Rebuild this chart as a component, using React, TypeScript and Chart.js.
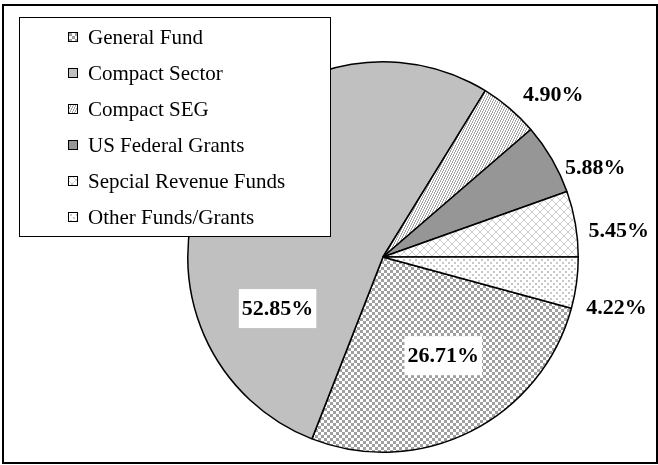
import React, { useEffect, useRef } from "react";
import { Chart, registerables } from "chart.js";

Chart.register(...registerables);

const categories = [
  "General Fund",
  "Compact Sector",
  "Compact SEG",
  "US Federal Grants",
  "Sepcial Revenue Funds",
  "Other Funds/Grants",
];
const shares = [26.71, 52.85, 4.9, 5.88, 5.45, 4.22];

// label placement: fraction across the slice, and either a radius fraction (inside) or pixels outside the rim
const labelPlacement = [
  { inside: true, frac: 0.45, r: 0.59 },
  { inside: true, frac: 0.225, r: 0.6 },
  { inside: false, frac: 0.51, d: 20 },
  { inside: false, frac: 0.68, d: 8 },
  { inside: false, frac: 0.61, d: 12 },
  { inside: false, frac: 0.9, d: 14 },
];

function makePattern(size: number, fn: (c: CanvasRenderingContext2D) => void): CanvasPattern | string {
  const cv = document.createElement("canvas");
  cv.width = size;
  cv.height = size;
  const c = cv.getContext("2d")!;
  c.fillStyle = "#ffffff";
  c.fillRect(0, 0, size, size);
  fn(c);
  const ctx = document.createElement("canvas").getContext("2d")!;
  return ctx.createPattern(cv, "repeat") || "#cccccc";
}

function buildFills() {
  const checker = makePattern(6, (c) => {
    c.fillStyle = "#a0a0a0";
    c.fillRect(0, 0, 3, 3);
    c.fillRect(3, 3, 3, 3);
  });
  const stripes = makePattern(5, (c) => {
    c.fillStyle = "#a6a6a6";
    for (let x = 0; x < 5; x++)
      for (let y = 0; y < 5; y++) if ((2 * x + y) % 5 < 2) c.fillRect(x, y, 1, 1);
  });
  const cross = makePattern(8, (c) => {
    c.fillStyle = "#cccccc";
    for (let i = 0; i < 8; i++) {
      c.fillRect(i, i, 1, 1);
      c.fillRect(7 - i, i, 1, 1);
    }
  });
  const dots = makePattern(6, (c) => {
    c.fillStyle = "#c8c8c8";
    c.fillRect(1, 1, 2, 2);
    c.fillRect(4, 4, 2, 2);
  });
  return [checker, "#c0c0c0", stripes, "#969696", cross, dots];
}

const overlayPlugin = {
  id: "overlay",
  afterDraw(chart: any) {
    const ctx: CanvasRenderingContext2D = chart.ctx;
    const meta = chart.getDatasetMeta(0);
    const fills = chart.data.datasets[0].backgroundColor;
    ctx.save();
    // data labels
    const fs = 22;
    ctx.font = `bold ${fs}px "Liberation Serif", "Times New Roman", serif`;
    meta.data.forEach((arc: any, i: number) => {
      const p = arc.getProps(["x", "y", "startAngle", "endAngle", "outerRadius"], true);
      const pl = labelPlacement[i];
      const a = p.startAngle + (p.endAngle - p.startAngle) * pl.frac;
      const text = shares[i].toFixed(2) + "%";
      const w = ctx.measureText(text).width;
      if (pl.inside) {
        const rr = p.outerRadius * (pl.r as number);
        const cx = p.x + Math.cos(a) * rr;
        const cy = p.y + Math.sin(a) * rr;
        ctx.fillStyle = "#ffffff";
        ctx.fillRect(cx - w / 2 - 3, cy - 19, w + 6, 39);
        ctx.fillStyle = "#000000";
        ctx.textAlign = "center";
        ctx.textBaseline = "alphabetic";
        ctx.fillText(text, cx, cy + fs * 0.33);
      } else {
        const rr = p.outerRadius + (pl.d as number);
        const cx = p.x + Math.cos(a) * rr;
        const cy = p.y + Math.sin(a) * rr;
        ctx.fillStyle = "#000000";
        ctx.textAlign = "left";
        ctx.textBaseline = "alphabetic";
        ctx.fillText(text, cx, cy + fs * 0.33);
      }
    });

    // legend box
    const lx = 19.5, ly = 17.5, lw = 311, lh = 219;
    ctx.fillStyle = "#ffffff";
    ctx.fillRect(lx, ly, lw, lh);
    ctx.strokeStyle = "#000000";
    ctx.lineWidth = 1;
    ctx.strokeRect(lx, ly, lw, lh);
    const lfs = 21;
    ctx.font = `${lfs}px "Liberation Serif", "Times New Roman", serif`;
    ctx.textAlign = "left";
    ctx.textBaseline = "alphabetic";
    chart.data.labels.forEach((lab: string, i: number) => {
      const cy = 37 + i * 36;
      ctx.fillStyle = fills[i];
      ctx.fillRect(68, cy - 4.5, 9, 9);
      ctx.strokeStyle = "#000000";
      ctx.lineWidth = 1;
      ctx.strokeRect(68.5, cy - 4.5, 9, 9);
      ctx.fillStyle = "#000000";
      ctx.fillText(lab, 88, cy + lfs * 0.33);
    });

    // outer frame
    ctx.strokeStyle = "#000000";
    ctx.lineWidth = 2;
    ctx.strokeRect(3, 5, 654, 458);
    ctx.restore();
  },
};

export default function App() {
  const ref = useRef<HTMLCanvasElement | null>(null);
  useEffect(() => {
    document.body.style.margin = "0";
    const fills = buildFills();
    const chart = new Chart(ref.current!, {
      type: "pie",
      data: {
        labels: categories,
        datasets: [
          {
            data: shares,
            backgroundColor: fills as any,
            borderColor: "#000000",
            borderWidth: 1.5,
          },
        ],
      },
      options: {
        animation: false,
        responsive: false,
        rotation: 105.2,
        layout: { padding: { left: 187, right: 79, top: 61, bottom: 12 } },
        plugins: {
          legend: { display: false },
          tooltip: { enabled: false },
        },
      },
      plugins: [overlayPlugin],
    });
    return () => chart.destroy();
  }, []);
  return (
    <div style={{ position: "absolute", left: 0, top: 0, width: 658, height: 465, background: "#fff" }}>
      <canvas ref={ref} width={658} height={465} style={{ display: "block" }} />
    </div>
  );
}
